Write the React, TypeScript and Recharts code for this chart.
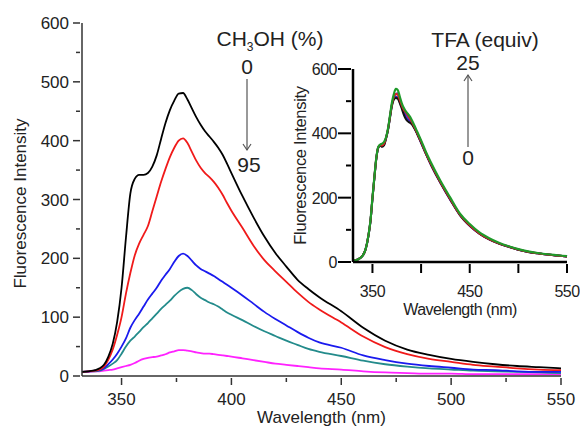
import { LineChart, Line, XAxis, YAxis, Label } from 'recharts'

const FONT = '"Liberation Sans", Arial, sans-serif'

// main spectra: CH3OH 0 -> 95 %
const mainNm = [332, 335, 338, 340, 342, 344, 346, 348, 350, 352, 354, 356, 358, 360, 362, 364, 366, 368, 370, 372, 374, 376, 378, 380, 382, 384, 386, 388, 390, 392, 394, 396, 398, 400, 405, 410, 415, 420, 425, 430, 435, 440, 450, 460, 470, 480, 490, 500, 510, 520, 530, 540, 550]
const meoh0 = [7, 8, 10, 13, 19, 33, 55, 92, 150, 235, 310, 335, 342, 342, 345, 356, 375, 403, 430, 452, 468, 480, 481, 470, 455, 440, 427, 416, 407, 398, 388, 376, 361, 345, 306, 270, 237, 209, 186, 164, 148, 134, 110, 82, 60, 45, 36, 29, 24, 20, 17, 15, 13]
const meohB = [7, 8, 9, 11, 16, 28, 45, 70, 100, 140, 175, 205, 225, 240, 255, 280, 305, 330, 352, 372, 388, 400, 404, 396, 381, 366, 354, 345, 338, 330, 320, 308, 294, 281, 252, 222, 197, 178, 160, 142, 126, 113, 91, 67, 49, 37, 29, 24, 19, 16, 13, 11, 10]
const meohC = [7, 8, 9, 10, 13, 20, 28, 38, 50, 64, 82, 95, 106, 118, 130, 140, 150, 162, 172, 182, 194, 204, 208, 204, 196, 188, 182, 178, 174, 170, 165, 160, 155, 150, 137, 123, 109, 97, 86, 75, 65, 57, 48, 35, 27, 21, 17, 14, 11, 10, 8, 7, 7]
const meohD = [7, 8, 8, 9, 12, 16, 21, 27, 38, 50, 60, 67, 75, 83, 90, 98, 106, 114, 121, 128, 136, 143, 148, 150, 146, 139, 133, 129, 125, 122, 118, 113, 108, 104, 95, 85, 76, 68, 60, 53, 46, 41, 34, 26, 20, 16, 13, 11, 9, 8, 7, 6, 5]
const meoh95 = [7, 7, 8, 8, 9, 10, 11, 13, 15, 17, 19, 22, 26, 29, 31, 32, 33, 35, 37, 40, 42, 44, 44, 43, 42, 40, 39, 38, 38, 37, 36, 35, 34, 33, 30, 27, 24, 21, 19, 17, 15, 13, 11, 8, 6, 5, 4, 4, 3, 3, 3, 3, 3]

// inset spectra: TFA 0 -> 25 equiv
const insetNm = [330, 335, 340, 343, 346, 348, 350, 352, 354, 356, 358, 360, 362, 364, 366, 368, 370, 372, 374, 376, 378, 380, 382, 384, 386, 388, 390, 393, 396, 400, 405, 410, 420, 430, 440, 450, 460, 470, 480, 490, 500, 510, 520, 530, 540, 550]
const tfa0 = [4, 8, 20, 40, 84, 128, 197, 262, 322, 355, 362, 358, 363, 384, 410, 448, 485, 505, 510, 508, 495, 478, 460, 446, 438, 434, 430, 416, 398, 372, 336, 304, 246, 194, 146, 113, 88, 70, 57, 47, 38, 31, 27, 23, 20, 17]
const tfa1 = [4, 8, 20, 40, 84, 128, 198, 263, 323, 356, 362, 360, 366, 386, 412, 450, 488, 508, 514, 512, 498, 482, 466, 452, 444, 440, 434, 418, 400, 373, 337, 305, 247, 195, 147, 114, 89, 71, 58, 48, 39, 32, 27, 23, 20, 17]
const tfa2 = [4, 8, 20, 40, 85, 129, 199, 264, 324, 357, 363, 362, 368, 387, 413, 452, 490, 514, 522, 520, 505, 488, 474, 466, 458, 448, 438, 420, 401, 374, 338, 306, 248, 196, 147, 114, 89, 71, 58, 48, 39, 32, 27, 23, 20, 17]
const tfa3 = [4, 8, 20, 40, 85, 129, 199, 264, 324, 357, 362, 360, 366, 386, 413, 452, 490, 512, 522, 525, 505, 486, 470, 460, 452, 446, 436, 420, 398, 370, 336, 302, 245, 193, 145, 112, 88, 70, 57, 47, 38, 31, 27, 23, 20, 17]
const tfa25 = [4, 8, 20, 40, 85, 130, 200, 265, 325, 358, 365, 368, 374, 388, 415, 455, 495, 522, 538, 535, 515, 495, 480, 470, 462, 454, 444, 425, 405, 378, 342, 310, 252, 200, 150, 118, 92, 74, 60, 49, 40, 33, 28, 24, 21, 18]

const mainXTicks = [350, 375, 400, 425, 450, 475, 500, 525, 550]
const mainYTicks = [0, 50, 100, 150, 200, 250, 300, 350, 400, 450, 500, 550, 600]
const insetXTicks = [350, 400, 450, 500, 550]
const insetYTicks = [0, 100, 200, 300, 400, 500, 600]

const mainRows = mainNm.map((nm, i) => ({ nm, a: meoh0[i], b: meohB[i], c: meohC[i], d: meohD[i], e: meoh95[i] }))
const insetRows = insetNm.map((nm, i) => ({ nm, a: tfa0[i], b: tfa1[i], c: tfa2[i], d: tfa3[i], e: tfa25[i] }))

const MainXTick = (p: any) => {
  const major = p.payload.value % 50 === 0
  return (
    <g>
      <line x1={p.x} y1={p.y} x2={p.x} y2={p.y + (major ? 7 : 4)} stroke="#333" strokeWidth={1.5} />
      {major && (
        <text x={p.x} y={p.y + 27} textAnchor="middle" fontSize={17} fill="#222" fontFamily={FONT}>
          {p.payload.value}
        </text>
      )}
    </g>
  )
}

const MainYTick = (p: any) => {
  const major = p.payload.value % 100 === 0
  return (
    <g>
      <line x1={p.x} y1={p.y} x2={p.x - (major ? 7 : 4)} y2={p.y} stroke="#333" strokeWidth={1.5} />
      {major && (
        <text x={p.x - 11} y={p.y + 6} textAnchor="end" fontSize={17} fill="#222" fontFamily={FONT}>
          {p.payload.value}
        </text>
      )}
    </g>
  )
}

const InsetXTick = (p: any) => {
  const show = p.payload.value % 100 === 50
  return (
    <g>
      <line x1={p.x} y1={p.y} x2={p.x} y2={p.y + 9} stroke="#000" strokeWidth={2} />
      {show && (
        <text x={p.x} y={p.y + 33} textAnchor="middle" fontSize={16} letterSpacing={-0.5} fill="#222" fontFamily={FONT}>
          {p.payload.value}
        </text>
      )}
    </g>
  )
}

const InsetYTick = (p: any) => {
  const major = p.payload.value % 200 === 0
  return (
    <g>
      <line x1={p.x} y1={p.y} x2={p.x - (major ? 13 : 5)} y2={p.y} stroke="#000" strokeWidth={2} />
      {major && (
        <text x={p.x - 14} y={p.y + 6} textAnchor="end" fontSize={16} letterSpacing={-0.5} fill="#222" fontFamily={FONT}>
          {p.payload.value}
        </text>
      )}
    </g>
  )
}

export default function App() {
  return (
    <div style={{ position: 'absolute', left: 0, top: 0, width: 582, height: 430, background: '#fff', fontFamily: FONT }}>
      {/* main chart */}
      <div style={{ position: 'absolute', left: 0, top: 0 }}>
        <LineChart width={582} height={430} data={mainRows} margin={{ top: 23, right: 21, bottom: 7, left: 15 }}>
          <XAxis
            dataKey="nm"
            type="number"
            domain={[332, 550]}
            ticks={mainXTicks}
            interval={0}
            tickSize={0}
            tickLine={false}
            tick={MainXTick}
            height={47}
            axisLine={{ stroke: '#333', strokeWidth: 1.5 }}
          >
            <Label value="Wavelength (nm)" position="insideBottom" offset={0} fontSize={17} fill="#222" fontFamily={FONT} />
          </XAxis>
          <YAxis
            type="number"
            domain={[0, 600]}
            ticks={mainYTicks}
            interval={0}
            tickSize={0}
            tickLine={false}
            tick={MainYTick}
            width={67}
            axisLine={{ stroke: '#333', strokeWidth: 1.5 }}
          >
            <Label value="Fluorescence Intensity" angle={-90} position="insideLeft" offset={5} dy={4} fontSize={17} fill="#222" fontFamily={FONT} style={{ textAnchor: 'middle' }} />
          </YAxis>
          <Line dataKey="e" stroke="#ff22ff" strokeWidth={1.8} dot={false} type="monotone" isAnimationActive={false} />
          <Line dataKey="d" stroke="#238b8b" strokeWidth={1.8} dot={false} type="monotone" isAnimationActive={false} />
          <Line dataKey="c" stroke="#1a1aee" strokeWidth={1.8} dot={false} type="monotone" isAnimationActive={false} />
          <Line dataKey="b" stroke="#f01a1a" strokeWidth={1.8} dot={false} type="monotone" isAnimationActive={false} />
          <Line dataKey="a" stroke="#000000" strokeWidth={1.8} dot={false} type="monotone" isAnimationActive={false} />
        </LineChart>
      </div>

      {/* inset chart */}
      <div style={{ position: 'absolute', left: 290, top: 55 }}>
        <LineChart width={290} height={265} data={insetRows} margin={{ top: 14, right: 13, bottom: 5, left: 5 }}>
          <XAxis
            dataKey="nm"
            type="number"
            domain={[330, 550]}
            ticks={insetXTicks}
            interval={0}
            tickSize={0}
            tickLine={false}
            tick={InsetXTick}
            height={53}
            axisLine={{ stroke: '#000', strokeWidth: 2.5 }}
          >
            <Label value="Wavelength (nm)" position="insideBottom" offset={0} fontSize={16} letterSpacing={-0.5} fill="#222" fontFamily={FONT} />
          </XAxis>
          <YAxis
            type="number"
            domain={[0, 600]}
            ticks={insetYTicks}
            interval={0}
            tickSize={0}
            tickLine={false}
            tick={InsetYTick}
            width={58}
            axisLine={{ stroke: '#000', strokeWidth: 2.5 }}
          >
            <Label value="Fluorescence Intensity" angle={-90} position="insideLeft" offset={5} fontSize={16.5} letterSpacing={-0.3} fill="#222" fontFamily={FONT} style={{ textAnchor: 'middle' }} />
          </YAxis>
          <Line dataKey="d" stroke="#7a2aa8" strokeWidth={2} dot={false} type="monotone" isAnimationActive={false} />
          <Line dataKey="b" stroke="#2a2ad0" strokeWidth={2} dot={false} type="monotone" isAnimationActive={false} />
          <Line dataKey="a" stroke="#111111" strokeWidth={2} dot={false} type="monotone" isAnimationActive={false} />
          <Line dataKey="c" stroke="#e02020" strokeWidth={2} dot={false} type="monotone" isAnimationActive={false} />
          <Line dataKey="e" stroke="#1f9a2a" strokeWidth={2.2} dot={false} type="monotone" isAnimationActive={false} />
        </LineChart>
      </div>

      {/* annotations */}
      <svg width={582} height={430} style={{ position: 'absolute', left: 0, top: 0, pointerEvents: 'none' }} fontFamily={FONT} fill="#222">
        <text x={270} y={46} textAnchor="middle" fontSize={21}>
          CH<tspan dy={5} fontSize={12}>3</tspan>
          <tspan dy={-5}>OH (%)</tspan>
        </text>
        <text x={247} y={74} textAnchor="middle" fontSize={21}>0</text>
        <line x1={247} y1={79} x2={247} y2={150} stroke="#555" strokeWidth={1.2} />
        <polyline points="243,144 247,150 251,144" fill="none" stroke="#555" strokeWidth={1.2} />
        <text x={249} y={172} textAnchor="middle" fontSize={21}>95</text>

        <text x={485} y={47} textAnchor="middle" fontSize={21}>TFA (equiv)</text>
        <text x={468} y={70} textAnchor="middle" fontSize={21}>25</text>
        <line x1={468} y1={75} x2={468} y2={147} stroke="#555" strokeWidth={1.2} />
        <polyline points="464,81 468,75 472,81" fill="none" stroke="#555" strokeWidth={1.2} />
        <text x={468} y={165} textAnchor="middle" fontSize={21}>0</text>
      </svg>
    </div>
  )
}
